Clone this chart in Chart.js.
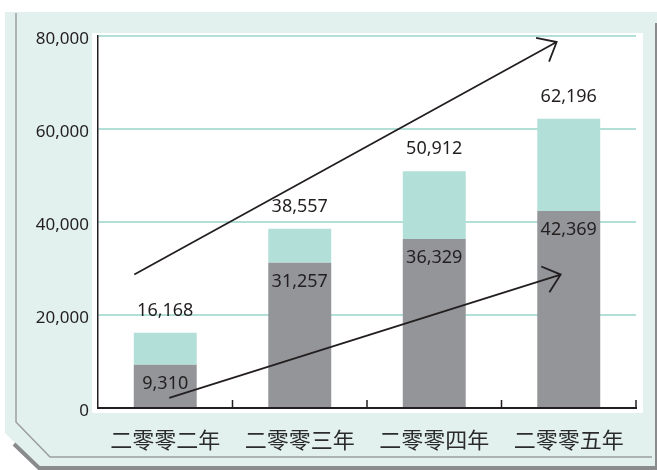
<!DOCTYPE html>
<html>
<head>
<meta charset="utf-8">
<script src="https://cdn.jsdelivr.net/npm/chart.js@4"></script>
<style>
  html, body { margin: 0; padding: 0; background: #fff; }
  #wrap { width: 657px; height: 470px; }
</style>
</head>
<body>
<div id="wrap"><canvas id="chart" width="657" height="470"></canvas></div>
<script>
// years (Chinese numerals, as in the original)
const years = ['二零零二年', '二零零三年', '二零零四年', '二零零五年'];
// gray lower part of each bar
const baseValues = [9310, 31257, 36329, 42369];
// full height of each bar (printed above it)
const totalValues = [16168, 38557, 50912, 62196];
const yTicks = [0, 20000, 40000, 60000, 80000];
// trend arrows: [category index, value] from -> to
const arrowFrom = [[-0.23, 28700], [0.03, 2170]];
const arrowTo = [[2.91, 78700], [2.94, 28700]];

const teal = '#b2dfd8';
const gray = '#939598';
const ink = '#231f20';
const fmt = (v) => v.toLocaleString('en-US');

Chart.defaults.font.family = '"Noto Sans", sans-serif';

// panel, white plot card
const framePlugin = {
  id: 'frame',
  beforeDraw(chart) {
    const ctx = chart.ctx;
    const a = chart.chartArea;
    ctx.save();
    ctx.fillStyle = '#e2f1ee';
    ctx.beginPath();
    ctx.moveTo(5, 12);
    ctx.lineTo(657, 12);
    ctx.lineTo(657, 466);
    ctx.lineTo(38, 466);
    ctx.lineTo(5, 433);
    ctx.closePath();
    ctx.fill();

    // shadow along bottom-left
    ctx.strokeStyle = '#8a8b8d';
    ctx.lineWidth = 4;
    ctx.beginPath();
    ctx.moveTo(14, 444);
    ctx.lineTo(39, 468);
    ctx.lineTo(657, 468);
    ctx.stroke();

    // inner border line
    ctx.strokeStyle = '#9c9d9f';
    ctx.lineWidth = 1.5;
    ctx.beginPath();
    ctx.moveTo(16, 13);
    ctx.lineTo(16, 422);
    ctx.lineTo(50, 457);
    ctx.lineTo(652, 457);
    ctx.stroke();

    // right edge
    ctx.strokeStyle = '#8a8b8d';
    ctx.lineWidth = 2;
    ctx.beginPath();
    ctx.moveTo(656, 23);
    ctx.lineTo(656, 466);
    ctx.stroke();

    ctx.fillStyle = '#ffffff';
    ctx.fillRect(a.left - 6, a.top - 3, a.right - a.left + 13, a.bottom - a.top + 8);
    ctx.restore();
  }
};

// value labels, category tick marks, arrows
const overlayPlugin = {
  id: 'overlay',
  afterDatasetsDraw(chart) {
    const ctx = chart.ctx;
    const a = chart.chartArea;
    const xs = chart.scales.x;
    const ys = chart.scales.y;
    ctx.save();

    ctx.fillStyle = ink;
    ctx.font = '18px "Noto Sans", sans-serif';
    ctx.textAlign = 'center';
    ctx.textBaseline = 'middle';
    const m0 = chart.getDatasetMeta(0);
    const m1 = chart.getDatasetMeta(1);
    m0.data.forEach((bar, i) => {
      ctx.fillText(fmt(baseValues[i]), bar.x, bar.y + 19);
    });
    m1.data.forEach((bar, i) => {
      ctx.fillText(fmt(totalValues[i]), bar.x, bar.y - 22);
    });

    // small ticks pointing up at category boundaries
    ctx.strokeStyle = ink;
    ctx.lineWidth = 1.5;
    const n = years.length;
    for (let i = 1; i <= n; i++) {
      const x = a.left + i * (a.right - a.left) / n;
      ctx.beginPath();
      ctx.moveTo(x, a.bottom);
      ctx.lineTo(x, a.bottom - 8);
      ctx.stroke();
    }

    // arrows
    const step = xs.getPixelForValue(1) - xs.getPixelForValue(0);
    const px = (p) => [xs.getPixelForValue(0) + p[0] * step, ys.getPixelForValue(p[1])];
    ctx.lineWidth = 1.8;
    arrowFrom.forEach((f, i) => {
      const [x1, y1] = px(f);
      const [x2, y2] = px(arrowTo[i]);
      ctx.beginPath();
      ctx.moveTo(x1, y1);
      ctx.lineTo(x2, y2);
      const ang = Math.atan2(y1 - y2, x1 - x2);
      const len = 21;
      const spread = 40 * Math.PI / 180;
      ctx.moveTo(x2 + len * Math.cos(ang - spread), y2 + len * Math.sin(ang - spread));
      ctx.lineTo(x2, y2);
      ctx.lineTo(x2 + len * Math.cos(ang + spread), y2 + len * Math.sin(ang + spread));
      ctx.stroke();
    });
    ctx.restore();
  }
};

new Chart(document.getElementById('chart'), {
  type: 'bar',
  data: {
    labels: years,
    datasets: [
      {
        data: baseValues,
        backgroundColor: gray,
        categoryPercentage: 1,
        barPercentage: 0.468
      },
      {
        data: totalValues.map((t, i) => t - baseValues[i]),
        backgroundColor: teal,
        categoryPercentage: 1,
        barPercentage: 0.468
      }
    ]
  },
  options: {
    responsive: false,
    animation: false,
    layout: { padding: { top: 36, right: 21, left: 0, bottom: 0 } },
    plugins: {
      legend: { display: false },
      tooltip: { enabled: false }
    },
    scales: {
      x: {
        stacked: true,
        grid: { display: false },
        border: { display: true, color: ink, width: 2 },
        ticks: {
          padding: 10,
          color: '#2b2b2b',
          font: { family: '"Noto Sans CJK TC", "Noto Sans CJK SC", sans-serif', size: 22 }
        },
        afterFit: (s) => { s.height = 62; }
      },
      y: {
        stacked: true,
        min: 0,
        max: 80000,
        afterBuildTicks: (s) => { s.ticks = yTicks.map((v) => ({ value: v })); },
        grid: {
          drawTicks: false,
          color: (c) => (c.tick && c.tick.value === 0 ? 'rgba(0,0,0,0)' : teal),
          lineWidth: 2
        },
        border: { display: true, color: ink, width: 1.5 },
        ticks: {
          padding: 9,
          labelOffset: 3,
          color: ink,
          font: { size: 17 },
          callback: (v) => fmt(v)
        },
        afterFit: (s) => { s.width = 98; }
      }
    }
  },
  plugins: [framePlugin, overlayPlugin]
});
</script>
</body>
</html>
